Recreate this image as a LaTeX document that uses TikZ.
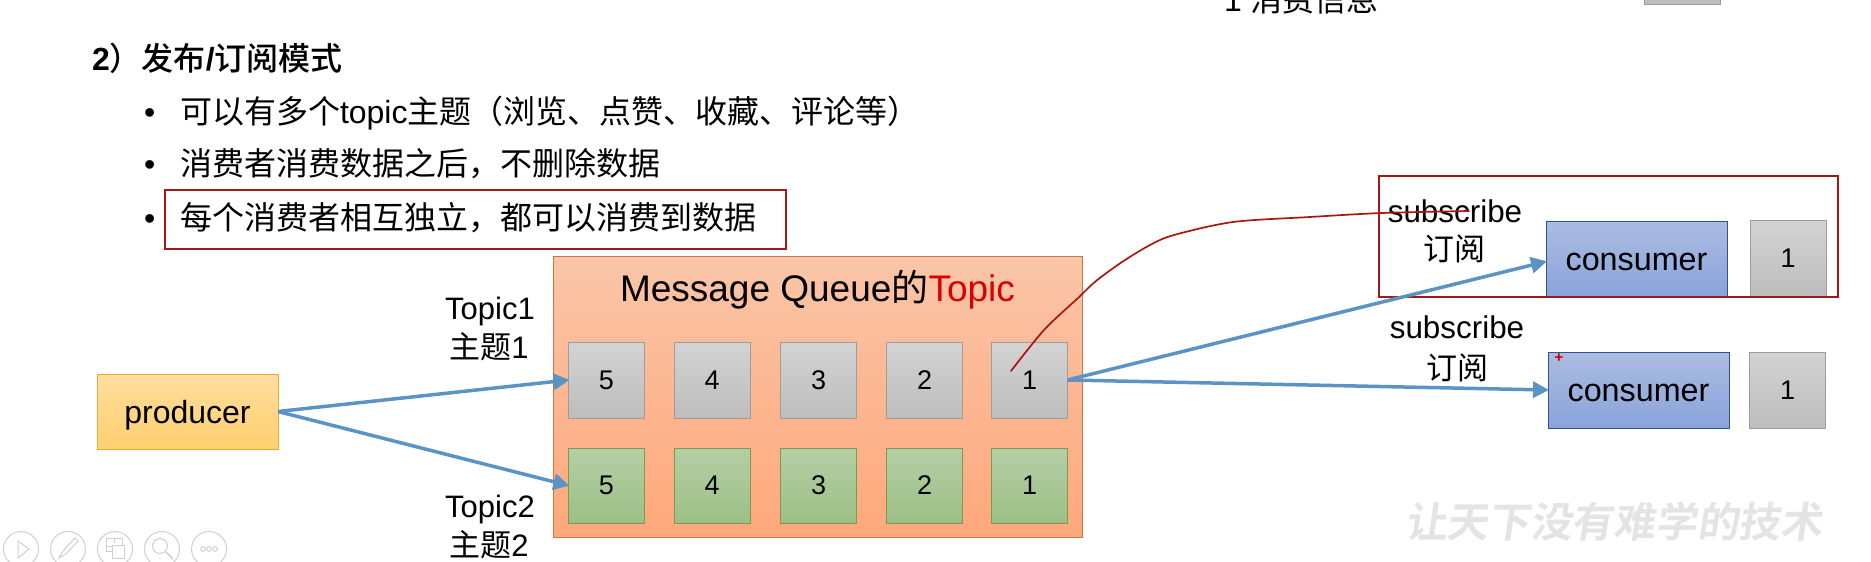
\documentclass[tikz,border=0pt]{standalone}
\usepackage{fontspec}
\setmainfont{Liberation Sans}
\newfontfamily\cjk{Noto Sans CJK SC}
\newfontfamily\cjkb{Noto Sans CJK SC Bold}
\newfontfamily\cjkm{Noto Sans CJK SC Medium}
\usetikzlibrary{arrows.meta}
\definecolor{redline}{HTML}{A01818}
\definecolor{redpen}{HTML}{A81810}
\definecolor{bluearrow}{HTML}{5B93C5}
\definecolor{toolgrey}{HTML}{CFCFCF}
\definecolor{markgrey}{HTML}{E4E4E4}
\definecolor{greentop}{HTML}{B5CFA5}
\definecolor{greenbot}{HTML}{9CBF86}
\definecolor{greenedge}{HTML}{7C9A50}
\definecolor{greytop}{HTML}{D3D3D3}
\definecolor{greybot}{HTML}{BDBDBD}
\definecolor{greyedge}{HTML}{A09C98}
\definecolor{prodtop}{HTML}{FFDD9E}
\definecolor{prodbot}{HTML}{FFD06E}
\definecolor{prodedge}{HTML}{E3AB35}
\definecolor{constop}{HTML}{ABBCE1}
\definecolor{consbot}{HTML}{8AA3DA}
\definecolor{consedge}{HTML}{2F5590}
\definecolor{queuetop}{HTML}{FAC5A8}
\definecolor{queuebot}{HTML}{FFA87A}
\definecolor{queueedge}{HTML}{C47A48}
\tikzset{
  x=1pt,y=-1pt,
  every node/.style={inner sep=0pt,outer sep=0pt,text=black},
  body/.style={anchor=base west,font=\fontsize{32}{32}\selectfont},
  lab/.style={anchor=base,font=\fontsize{31}{31}\selectfont},
  sub/.style={anchor=base,font=\fontsize{31.4}{31.4}\selectfont},
  greybox/.style={draw=greyedge,top color=greytop,bottom color=greybot,minimum width=76pt,minimum height=76pt,font=\fontsize{27}{27}\selectfont},
  greenbox/.style={draw=greenedge,top color=greentop,bottom color=greenbot,minimum width=76pt,minimum height=75pt,font=\fontsize{27}{27}\selectfont},
  prodbox/.style={draw=prodedge,top color=prodtop,bottom color=prodbot,minimum width=181pt,minimum height=75pt,text height=23pt,text depth=0pt,font=\fontsize{32}{32}\selectfont},
  consbox/.style={draw=consedge,top color=constop,bottom color=consbot,minimum width=181pt,text height=23pt,text depth=0pt,font=\fontsize{32.3}{32.3}\selectfont},
  queuebox/.style={draw=queueedge,top color=queuetop,bottom color=queuebot,minimum width=529pt,minimum height=281pt},
  redframe/.style={draw=redline,line width=2pt,fill=none},
  flow/.style={draw=bluearrow,line width=3.5pt,-{Triangle[length=16pt,width=16pt]},shorten >=-1pt},
  penline/.style={draw=redpen,line width=1.7pt,line cap=round,line join=round},
  tool/.style={draw=toolgrey,line width=1pt,fill=none},
}
\begin{document}
\begin{tikzpicture}
\useasboundingbox (0,0) rectangle (1871,562);
\clip (0,0) rectangle (1871,562);
% text above
\node[body] (cut) at (1224,11) {1 {\cjk 消费信息}};
\node[greybox] (cutbox) at (1682.5,-34) {};
\node[body] (head) at (92,70) {\fontspec{Liberation Sans Bold}2{\cjkm ）发布}/{\cjkm 订阅模式}};
\node[body] (b1) at (144,123) {•};
\node[body] (b2) at (144,175) {•};
\node[body] (b3) at (144,229) {•};
\node[body] (l1) at (180,123) {{\cjk 可以有多个}topic{\cjk 主题（浏览、点赞、收藏、评论等）}};
\node[body] (l2) at (180,175) {{\cjk 消费者消费数据之后，不删除数据}};
\node[body] (l3) at (180,229) {{\cjk 每个消费者相互独立，都可以消费到数据}};
\node[redframe,minimum width=621pt,minimum height=59pt] (hl) at (475.5,219.5) {};
% queue
\node[queuebox] (mq) at (817.5,396.5) {};
\node[anchor=base west,font=\fontsize{37}{37}\selectfont] (title) at (620,301) {Message Queue{\cjk 的}\textcolor{red!85!black}{Topic}};
\node[greybox] (g5) at (606.5,380) {5};
\node[greybox] (g4) at (712,380) {4};
\node[greybox] (g3) at (818.5,380) {3};
\node[greybox] (g2) at (924.5,380) {2};
\node[greybox] (g1) at (1029.5,380) {1};
\node[greenbox] (h5) at (606.5,485.5) {5};
\node[greenbox] (h4) at (712,485.5) {4};
\node[greenbox] (h3) at (818.5,485.5) {3};
\node[greenbox] (h2) at (924.5,485.5) {2};
\node[greenbox] (h1) at (1029.5,485.5) {1};
% producer and labels
\node[prodbox] (prod) at (187.5,411.5) {producer};
\node[lab] (t1a) at (490,319) {Topic1};
\node[lab] (t1b) at (489,358) {{\cjk 主题}1};
\node[lab] (t2a) at (490,517) {Topic2};
\node[lab] (t2b) at (489,556) {{\cjk 主题}2};
% consumers
\node[consbox,minimum height=75pt] (c1) at (1636.5,258.5) {consumer};
\node[greybox] (v1) at (1788,258) {1};
\node[consbox,minimum height=76pt] (c2) at (1638.5,390) {consumer};
\node[greybox] (v2) at (1787.5,390) {1};
\node[sub] (s1a) at (1455,222) {subscribe};
\node[lab] (s1b) at (1454,260) {{\cjk 订阅}};
\node[sub] (s2a) at (1457,338) {subscribe};
\node[lab] (s2b) at (1457,379) {{\cjk 订阅}};
\node[redframe,minimum width=459pt,minimum height=121pt] (frame) at (1608.5,236.5) {};
% arrows
\draw[flow] (prod.east) -- (g5.west);
\draw[flow] (prod.east) -- (h5.west);
\draw[flow] (g1.east) -- ([yshift=-3pt]c1.west);
\draw[flow] (g1.east) -- (c2.west);
% pen stroke
\coordinate (ps) at (1011,371);
\coordinate (pe) at (1469,211);
\draw[penline] plot[smooth,tension=0.5] coordinates {(ps) (1044,330) (1078,298) (1096,281) (1122,262) (1150,245) (1174,235) (1233,222) (1310,217) (1382,213) (pe)};
\node[anchor=center,font=\fontsize{15}{15}\selectfont\bfseries,text=red!80!black] (mark) at (1559,358) {+};
% watermark
\node[anchor=center,font=\fontsize{41.7}{41.7}\selectfont,text=markgrey,xslant=0.15] (wm) at (1616,521) {\cjkb 让天下没有难学的技术};
% player toolbar
\node[tool,circle,minimum size=35pt] (i1) at (21,549) {};
\node[tool,circle,minimum size=35pt] (i2) at (68,549) {};
\node[tool,circle,minimum size=35pt] (i3) at (115,549) {};
\node[tool,circle,minimum size=35pt] (i4) at (162,549) {};
\node[tool,circle,minimum size=35pt] (i5) at (209,549) {};
\draw[tool] (18,541) -- (29,549) -- (18,558) -- cycle;
\draw[tool] (59,558) -- (63,551) -- (75,538) -- (78,541) -- (66,554) -- cycle;
\draw[tool] (106,538) rectangle (122,551);
\draw[tool] (106,546) -- (113,546) (114,538) -- (114,543);
\draw[tool,fill=white] (112,545) rectangle (124,558);
\draw[tool] (160,546) circle (7.5pt);
\draw[tool,line width=1.5pt] (166,552) -- (173,559);
\draw[tool] (203,549) circle (2.3pt) (209,549) circle (2.3pt) (215,549) circle (2.3pt);
\end{tikzpicture}
\end{document}
